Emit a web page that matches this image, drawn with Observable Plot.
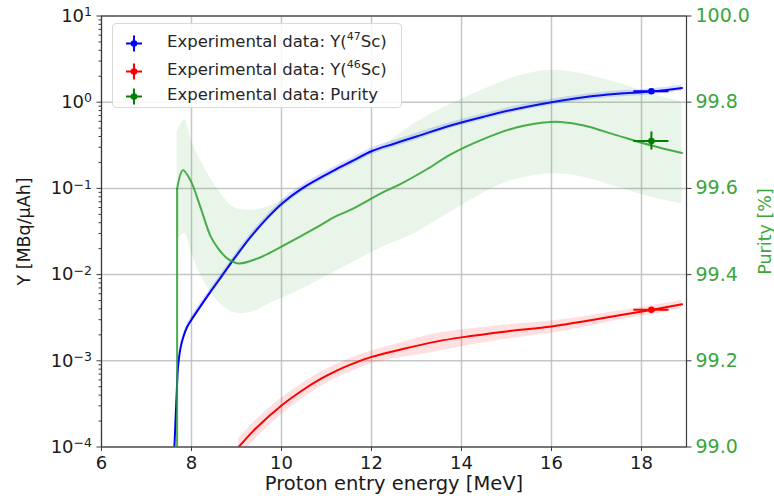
<!DOCTYPE html>
<html>
<head>
<meta charset="utf-8">
<script src="https://cdn.jsdelivr.net/npm/d3@7"></script>
<script src="https://cdn.jsdelivr.net/npm/@observablehq/plot@0.6"></script>
<style>
  body { margin: 0; background: #fff; font-family: "DejaVu Sans", sans-serif; }
  #wrap { position: relative; width: 774px; height: 499px; }
  #legend { position: absolute; left: 112px; top: 23px; width: 290px; height: 85px;
            border: 1px solid #d9d9d9; border-radius: 4px; background: rgba(255,255,255,0.85);
            box-sizing: border-box; }
  .row { position: absolute; left: 0; height: 22px; width: 100%; }
  .row svg { position: absolute; left: 10px; top: 1px; }
  .row span.t { position: absolute; left: 54px; top: 0; line-height: 22px; font-size: 16.5px;
                color: #262626; white-space: nowrap; }
  .sup { font-size: 11px; position: relative; top: -7px; }
</style>
</head>
<body>
<div id="wrap"></div>
<script>
// ---------- data ----------
// Y(47Sc) theoretical yield [MBq/uAh]
const y47X = [7.62, 7.67, 7.70, 7.76, 7.82, 7.90, 8.0, 8.13, 8.42, 8.64, 8.94, 9.31, 9.68, 10.0, 10.46, 11.16, 11.6, 12.0, 12.5, 13.0, 13.76, 14.5, 15.24, 16.0, 16.72, 17.47, 18.22, 18.9];
const y47Y = [1.0e-4, 4.1e-4, 8.4e-4, 1.44e-3, 1.9e-3, 2.45e-3, 3.0e-3, 3.8e-3, 6.3e-3, 9.1e-3, 0.0151, 0.0272, 0.0452, 0.066, 0.100, 0.161, 0.211, 0.27, 0.33, 0.40, 0.537, 0.68, 0.84, 1.0, 1.14, 1.25, 1.33, 1.46];
const y47RelErr = [0.09, 0.09, 0.09, 0.09, 0.09, 0.09, 0.09, 0.09, 0.09, 0.09, 0.09, 0.09, 0.09, 0.09, 0.09, 0.09, 0.09, 0.09, 0.09, 0.09, 0.08, 0.08, 0.08, 0.08, 0.08, 0.08, 0.08, 0.08];

// Y(46Sc) theoretical yield [MBq/uAh]
const y46X = [9.05, 9.38, 10.0, 10.5, 10.87, 11.24, 11.6, 12.0, 12.72, 13.46, 14.0, 15.0, 16.0, 16.87, 17.61, 18.24, 18.9];
const y46Y = [1.0e-4, 1.55e-4, 3.03e-4, 4.68e-4, 6.17e-4, 7.76e-4, 9.33e-4, 1.11e-3, 1.38e-3, 1.68e-3, 1.87e-3, 2.19e-3, 2.5e-3, 2.95e-3, 3.44e-3, 3.91e-3, 4.52e-3];
const y46RelErr = [0.25, 0.24, 0.22, 0.2, 0.19, 0.18, 0.18, 0.17, 0.2, 0.24, 0.22, 0.19, 0.16, 0.14, 0.12, 0.12, 0.11];

// Purity [%]  (first point: the curve rises vertically from the bottom at threshold)
const purX = [7.68, 7.68, 7.81, 7.98, 8.2, 8.42, 8.57, 8.8, 9.05, 9.46, 10.0, 10.79, 11.16, 11.53, 12.2, 12.64, 13.24, 13.76, 14.5, 15.24, 15.98, 16.2, 16.72, 17.46, 18.2, 18.9];
const purY = [99.0, 99.599, 99.642, 99.618, 99.556, 99.49, 99.464, 99.437, 99.426, 99.437, 99.465, 99.51, 99.533, 99.55, 99.588, 99.61, 99.645, 99.679, 99.715, 99.742, 99.754, 99.754, 99.746, 99.723, 99.70, 99.682];
// Purity uncertainty band
const bandX  = [7.68, 7.85, 8.0, 8.2, 8.57, 8.94, 9.31, 9.68, 10.0, 10.42, 11.16, 11.53, 12.2, 12.95, 13.76, 14.5, 14.9, 15.24, 16.0, 16.72, 17.46, 18.2, 18.9];
const bandHi = [99.73, 99.76, 99.71, 99.665, 99.60, 99.556, 99.549, 99.556, 99.572, 99.595, 99.638, 99.66, 99.695, 99.75, 99.795, 99.83, 99.846, 99.86, 99.874, 99.865, 99.845, 99.82, 99.80];
const bandLo = [99.48, 99.495, 99.45, 99.40, 99.34, 99.312, 99.312, 99.33, 99.345, 99.365, 99.405, 99.425, 99.462, 99.495, 99.545, 99.59, 99.61, 99.622, 99.634, 99.626, 99.603, 99.58, 99.564];

// Experimental data points (x, xerr, value, yerr)
const expX = 18.22, expXErr = 0.39;
const exp47 = 1.34, exp47Err = 0.03;
const exp46 = 3.91e-3, exp46Err = 0.1e-3;
const expPur = 99.71, expPurErr = 0.021;

// axes
const xTicks = [6, 8, 10, 12, 14, 16, 18];
const yDecades = [1e-4, 1e-3, 1e-2, 1e-1, 1, 10];
const yDecadeExp = ["−4", "−3", "−2", "−1", "0", "1"];
const purityTicks = [99.0, 99.2, 99.4, 99.6, 99.8, 100.0];

// ---------- build ----------
// twin axis: purity 99..100 maps linearly onto the left log axis 1e-4..1e1
const purToY = p => Math.pow(10, -4 + 5 * (p - 99));
const yToPur = y => 99 + (Math.log10(y) + 4) / 5;

const yMinor = [];
for (let k = -4; k <= 0; k++) for (let m = 2; m <= 9; m++) yMinor.push(m * Math.pow(10, k));

const d47 = y47X.map((x, i) => ({x, y: y47Y[i], lo: y47Y[i] * (1 - y47RelErr[i]), hi: y47Y[i] * (1 + y47RelErr[i])}));
const d46 = y46X.map((x, i) => ({x, y: y46Y[i], lo: y46Y[i] * (1 - y46RelErr[i]), hi: y46Y[i] * (1 + y46RelErr[i])}));
const dPur = purX.map((x, i) => ({x, y: purToY(purY[i])}));
const dBand = bandX.map((x, i) => ({x, lo: purToY(bandLo[i]), hi: purToY(bandHi[i])}));
const pts = [
  {x: expX, xe: expXErr, y: exp47, y1: exp47 - exp47Err, y2: exp47 + exp47Err, c: "#0000ff"},
  {x: expX, xe: expXErr, y: exp46, y1: exp46 - exp46Err, y2: exp46 + exp46Err, c: "#ff0000"},
  {x: expX, xe: expXErr, y: purToY(expPur), y1: purToY(expPur - expPurErr), y2: purToY(expPur + expPurErr), c: "#007f00"}
];

const GREEN = "#3aa63a";
const FONT = "DejaVu Sans";
const CURVE = "catmull-rom";
const decadeLabel = d => {
  const k = Math.round(Math.log10(d));
  const i = yDecades.findIndex(v => Math.round(Math.log10(v)) === k);
  return i < 0 ? "" : "10^" + yDecadeExp[i];
};

const chart = Plot.plot({
  width: 774, height: 499,
  marginLeft: 101, marginRight: 88, marginTop: 15.5, marginBottom: 52.5,
  style: {fontFamily: FONT, fontSize: "18px", background: "white", overflow: "visible"},
  x: {domain: [6, 19], label: null},
  y: {type: "log", domain: [1e-4, 10], label: null},
  marks: [
    Plot.gridX(xTicks, {stroke: "#b8b8b8", strokeOpacity: 0.8, strokeWidth: 1.5}),
    Plot.gridY(yDecades, {stroke: "#b8b8b8", strokeOpacity: 0.8, strokeWidth: 1.5}),
    // Y(47Sc)
    Plot.areaY(d47, {x: "x", y1: "lo", y2: "hi", fill: "#0000ff", fillOpacity: 0.14, curve: CURVE, clip: true}),
    Plot.line(d47, {x: "x", y: "y", stroke: "#0000ff", strokeWidth: 2, curve: CURVE, clip: true}),
    // Y(46Sc)
    Plot.areaY(d46, {x: "x", y1: "lo", y2: "hi", fill: "#ff0000", fillOpacity: 0.12, curve: CURVE, clip: true}),
    Plot.line(d46, {x: "x", y: "y", stroke: "#ff0000", strokeWidth: 2, curve: CURVE, clip: true}),
    // Purity (twin axis)
    Plot.areaY(dBand, {x: "x", y1: "lo", y2: "hi", fill: "#2ca02c", fillOpacity: 0.11, curve: CURVE, clip: true}),
    Plot.line(dPur.slice(0, 2), {x: "x", y: "y", stroke: "#2ca02c", strokeOpacity: 0.85, strokeWidth: 2, clip: true}),
    Plot.line(dPur.slice(1), {x: "x", y: "y", stroke: "#2ca02c", strokeOpacity: 0.85, strokeWidth: 2, curve: CURVE, clip: true}),
    // experimental points with error bars
    Plot.ruleY(pts, {y: "y", x1: d => d.x - d.xe, x2: d => d.x + d.xe, stroke: d => d.c, strokeWidth: 2}),
    Plot.ruleX(pts, {x: "x", y1: "y1", y2: "y2", stroke: d => d.c, strokeWidth: 2}),
    Plot.dot(pts, {x: "x", y: "y", fill: d => d.c, r: 3.3}),
    // frame (spines)
    Plot.frame({stroke: "#3a3a3a", strokeWidth: 1.2}),
    // left axis
    Plot.axisY(yDecades, {anchor: "left", tickSize: 4.5, tickPadding: 5, label: null,
      tickFormat: decadeLabel, fontSize: 18, stroke: "#3a3a3a", fill: "#1a1a1a"}),
    Plot.axisY(yMinor, {anchor: "left", tickSize: 2.5, label: null, tickFormat: () => "", stroke: "#3a3a3a"}),
    // right axis (purity)
    Plot.axisY(purityTicks.map(purToY), {anchor: "right", tickSize: 4.5, tickPadding: 4.5, label: null,
      tickFormat: d => yToPur(d).toFixed(1), fontSize: 19, stroke: "#3a3a3a", fill: GREEN}),
    // bottom axis
    Plot.axisX(xTicks, {anchor: "bottom", tickSize: 4.5, tickPadding: 5, label: null,
      tickFormat: d => String(d), fontSize: 18, stroke: "#3a3a3a", fill: "#1a1a1a"}),
    // axis titles
    Plot.text(["Proton entry energy [MeV]"], {text: d => d, frameAnchor: "bottom", dy: 36.5, lineAnchor: "middle",
      textAnchor: "middle", fontSize: 19.5, fill: "#1a1a1a"}),
    Plot.text(["Y [MBq/μAh]"], {text: d => d, frameAnchor: "left", dx: -77.5, rotate: -90, lineAnchor: "middle",
      textAnchor: "middle", fontSize: 17.5, fill: "#1a1a1a"}),
    Plot.text(["Purity [%]"], {text: d => d, frameAnchor: "right", dx: 79, rotate: -90, lineAnchor: "middle",
      textAnchor: "middle", fontSize: 17.5, fill: GREEN})
  ]
});

// render "10^k" tick labels with a real superscript
d3.select(chart).selectAll("text").each(function () {
  const m = /^10\^(.+)$/.exec(this.textContent);
  if (!m) return;
  const t = d3.select(this);
  t.text(null);
  t.append("tspan").text("10");
  t.append("tspan").attr("dy", "-0.45em").attr("font-size", "12.5px").text(m[1]);
});

const wrap = document.getElementById("wrap");
wrap.appendChild(chart);

// legend
const legendItems = [
  {color: "#0000ff", html: 'Experimental data: Y(<span class="sup">47</span>Sc)', top: 6.5},
  {color: "#ff0000", html: 'Experimental data: Y(<span class="sup">46</span>Sc)', top: 34.5},
  {color: "#007f00", html: 'Experimental data: Purity', top: 59.5}
];
const legend = document.createElement("div");
legend.id = "legend";
for (const it of legendItems) {
  const row = document.createElement("div");
  row.className = "row";
  row.style.top = it.top + "px";
  row.innerHTML =
    `<svg width="22" height="22" viewBox="0 0 22 22">
       <line x1="3" x2="19" y1="11.5" y2="11.5" stroke="${it.color}" stroke-width="2"/>
       <line x1="11" x2="11" y1="3.5" y2="19.5" stroke="${it.color}" stroke-width="2"/>
       <circle cx="11" cy="11.5" r="3.3" fill="${it.color}"/>
     </svg><span class="t">${it.html}</span>`;
  legend.appendChild(row);
}
wrap.appendChild(legend);
</script>
</body>
</html>
